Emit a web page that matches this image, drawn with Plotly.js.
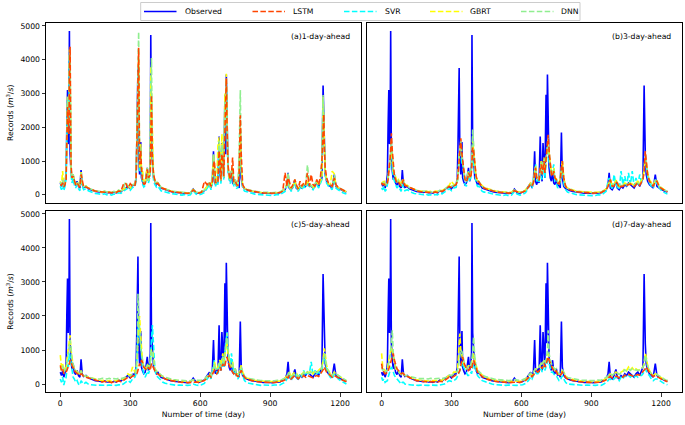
<!DOCTYPE html>
<html><head><meta charset="utf-8">
<script src="https://cdn.plot.ly/plotly-3.0.1.min.js"></script>
<style>html,body{margin:0;padding:0;background:#fff}#chart{width:685px;height:425px}</style>
</head><body><div id="chart"></div>
<script>
const days = [0,5,10,15,20,25,28,31,34,37,39,42,46,50,55,60,66,72,78,84,89,94,100,
110,120,130,140,150,160,170,180,190,200,210,220,230,240,250,260,270,280,290,300,310,
320,325,328,331,333,336,340,345,348,352,358,364,370,373,378,383,386,388,391,395,400,406,412,418,425,432,440,
450,462,474,486,498,510,522,534,546,558,570,582,594,606,618,630,
640,646,652,657,661,666,671,676,681,685,689,693,697,701,706,709,712,715,719,724,729,734,739,744,750,756,762,767,772,776,782,790,798,
810,822,834,846,858,870,882,894,906,918,930,942,954,
964,972,977,982,990,998,1006,1012,1020,1028,1036,1044,1052,1060,1068,1076,1084,1092,1100,1108,1116,1122,1127,1130,1132,1136,1142,1150,1158,1166,1175,1182,1192,1202,1212,1220,1227];

const observed = [350,250,380,200,320,600,2050,3100,1500,2300,4850,1200,700,450,600,350,280,400,250,200,730,300,220,
250,180,150,120,100,90,80,70,90,60,70,50,80,60,120,90,150,200,250,180,280,
300,500,1500,2500,3750,1200,600,1560,500,400,300,350,700,800,400,600,900,4730,1500,900,500,400,300,350,250,200,180,
150,120,100,80,70,60,50,60,40,50,170,60,50,80,120,250,
350,200,400,1290,400,300,450,350,1725,600,400,1530,700,500,2960,1200,3560,1500,800,500,400,700,350,300,450,250,300,200,1840,500,250,180,150,
120,100,80,70,60,50,60,50,40,50,70,60,120,
150,300,650,200,150,250,430,200,150,250,200,300,250,350,300,250,200,300,350,250,400,500,3236,1870,1200,600,400,300,250,200,600,250,200,150,120,100,80];

// (a) 1-day-ahead
const lstmA = [300,280,350,230,300,450,1500,2600,2200,1800,3500,4380,900,500,550,400,300,350,280,220,600,400,240,
230,200,160,130,110,95,85,80,85,70,75,60,75,70,110,100,300,350,200,330,250,
280,450,1200,2400,3300,4350,900,1300,800,450,320,330,600,750,500,550,700,2000,2950,1100,600,420,330,340,270,210,190,
160,130,105,85,75,65,55,60,45,55,140,80,55,75,400,300,
380,250,350,900,1000,350,400,380,1300,1000,450,1200,1100,550,2300,2700,3450,2000,900,600,450,600,1100,400,420,300,280,600,2350,1200,300,200,160,
130,110,85,75,65,55,60,55,45,55,75,65,110,
650,250,500,400,200,300,450,300,180,400,250,350,300,650,250,600,300,250,450,300,550,1000,1800,2380,1500,800,500,350,300,250,500,300,220,180,130,110,90];
const svrA = [250,150,300,120,250,500,1700,2800,2000,2000,4000,3500,600,350,500,300,200,300,180,120,600,250,150,
180,120,90,60,40,30,20,10,30,0,20,-10,20,10,60,40,100,150,200,130,220,
230,420,1300,2300,3500,3800,700,1400,600,330,230,280,600,700,350,500,700,3500,2000,900,400,300,230,260,180,120,100,
90,60,40,20,10,0,-10,10,-20,0,120,20,-5,20,70,200,
300,150,330,1100,700,250,380,300,1500,800,330,1400,900,450,2600,2000,3300,1700,700,450,330,600,700,250,380,180,230,700,1900,700,200,110,90,
60,40,20,10,0,-10,0,-10,-20,-10,10,0,60,
100,250,550,250,100,200,380,220,100,200,150,250,200,300,250,200,150,250,300,200,350,450,2800,2200,1300,600,350,250,200,150,500,200,150,100,60,40,20];
const gbrtA = [400,300,700,250,350,600,1800,2900,2100,2100,4300,3800,700,500,600,400,300,400,280,220,700,350,250,
260,200,160,130,110,100,90,80,100,70,80,60,90,70,130,100,160,210,260,200,290,
310,500,1400,2400,3600,4000,800,1500,700,800,320,350,700,800,420,600,800,3800,3000,1550,550,420,320,360,260,210,190,
160,130,110,90,80,70,60,70,50,60,160,70,60,90,130,260,
360,220,420,1200,800,320,450,1450,1700,900,420,1800,1000,520,3000,2200,3580,1800,850,520,420,700,800,320,450,260,310,900,2000,800,270,190,160,
130,110,90,80,70,60,70,60,50,60,80,70,130,
160,320,620,250,160,260,440,250,170,260,220,320,260,380,320,260,220,320,380,280,420,520,2900,2100,1400,700,450,320,300,700,620,270,210,160,130,110,90];
const dnnA = [380,280,450,250,350,700,1900,2900,2300,2200,4200,4000,800,500,600,400,320,400,300,230,650,350,240,
260,200,170,140,120,110,100,90,110,80,90,70,100,80,140,110,170,380,260,210,300,
320,520,1500,2500,3700,4820,900,1400,700,500,330,360,700,800,430,600,900,3000,4050,1200,560,430,330,370,270,220,200,
170,140,120,100,90,80,70,80,60,70,170,80,70,100,140,270,
370,230,620,1200,800,330,450,380,1600,900,430,1500,950,520,2800,2100,3300,1800,850,520,430,700,750,330,460,270,320,1200,3100,700,280,200,170,
140,120,100,90,80,70,80,70,60,70,90,80,140,
170,330,640,260,170,270,450,260,180,270,230,330,280,880,330,270,230,330,400,290,430,1050,2950,2200,1400,700,470,340,290,230,600,280,220,170,140,120,100];

// (b) 3-day-ahead
const lstmB = [350,300,320,280,300,350,450,600,900,1100,1400,1820,1300,800,550,450,350,380,300,250,350,450,280,
250,200,170,140,120,100,90,85,95,70,80,60,85,70,110,100,140,190,250,220,270,
300,400,550,800,1000,1300,1675,1200,1000,700,450,380,500,650,550,500,700,1000,1400,1300,900,550,400,380,300,240,200,
170,140,120,100,80,70,60,65,50,60,120,90,60,80,120,220,
320,280,350,650,800,500,450,420,800,900,600,900,1000,650,1100,1300,1500,1775,1300,900,600,550,700,500,450,350,320,450,900,1000,500,250,180,
140,120,90,80,70,60,60,60,50,55,70,65,110,
150,250,350,450,250,260,380,350,200,250,250,300,280,300,320,280,240,300,350,280,380,450,700,1000,1290,1000,600,400,320,250,400,400,230,180,140,110,90];
const svrB = [200,150,250,100,150,300,500,800,700,900,1200,1100,900,500,400,300,200,250,150,100,300,200,120,
150,100,70,40,30,20,10,0,20,-10,0,-20,10,0,50,30,80,130,180,120,200,
220,350,500,900,1100,1300,1200,900,1000,700,300,250,500,700,400,500,800,1200,1000,900,700,350,250,250,180,100,80,
80,50,20,10,0,-10,-20,0,-30,-10,100,20,-10,10,60,200,
300,200,450,600,900,400,450,350,700,600,450,1000,700,500,900,1100,1200,1500,1000,800,600,700,900,400,350,200,250,400,700,800,350,150,80,
50,30,10,0,-10,-20,-10,-20,-30,-20,0,-10,60,
100,400,500,300,150,600,300,250,150,700,300,550,250,650,300,700,250,500,300,600,350,500,700,1000,1100,900,550,350,250,200,450,300,200,120,70,40,20];
const gbrtB = [380,320,450,300,320,400,550,700,800,1000,1200,1400,1100,700,650,500,400,450,350,300,450,380,300,
280,220,190,160,140,120,110,100,120,90,100,80,110,100,140,120,170,220,280,400,300,
320,420,600,900,1200,1400,1500,1100,900,700,500,420,600,700,500,600,800,1200,1600,1300,800,500,420,400,320,260,220,
190,160,140,120,100,90,80,90,70,80,150,100,80,100,140,260,
350,300,400,700,850,500,550,450,900,1000,650,1000,1100,700,1100,1300,1400,1500,1200,900,650,600,800,500,480,380,350,500,800,1000,500,270,200,
160,140,110,100,90,80,80,80,70,75,90,85,130,
170,280,400,450,280,300,420,380,230,300,280,350,320,350,350,320,280,350,400,320,420,500,750,950,1100,950,650,450,350,280,450,420,260,200,160,130,110];
const dnnB = [360,300,400,280,310,380,500,650,850,1050,1300,1600,1200,750,600,480,380,420,320,270,400,420,290,
270,210,180,150,130,110,100,95,110,80,90,70,95,85,130,110,160,210,270,250,290,
310,410,580,850,1100,1450,1600,1150,950,700,480,400,560,680,520,560,780,1300,1930,1500,850,520,410,390,310,250,210,
180,150,130,110,90,80,70,75,60,70,140,95,70,90,130,240,
340,290,380,680,830,500,500,440,850,950,620,950,1050,680,1100,1300,1450,1700,1250,880,620,580,750,500,470,370,340,480,850,1000,500,260,190,
150,130,100,90,80,70,70,70,60,65,80,75,120,
160,270,380,450,270,280,400,370,220,280,270,330,300,330,340,300,260,330,380,300,400,480,750,1050,1200,1000,620,420,330,260,430,410,240,190,150,120,100];

// (c) 5-day-ahead
const lstmC = [550,400,450,300,350,350,400,450,500,550,600,700,650,550,450,400,350,300,280,250,300,280,220,
200,180,150,120,100,90,80,60,80,50,70,40,70,60,90,70,100,150,200,180,230,
250,280,300,350,400,500,600,550,700,650,500,450,420,400,500,450,400,500,600,550,450,380,320,300,260,220,180,
150,120,100,80,70,60,50,60,40,50,70,60,50,70,100,180,
250,200,280,300,400,350,300,350,450,500,400,550,600,500,550,650,700,800,650,550,450,400,350,300,350,250,220,250,350,400,300,200,150,
120,100,80,70,60,50,50,50,40,45,60,55,90,
120,200,180,250,150,200,250,220,150,200,180,250,200,250,220,200,180,230,250,220,300,350,400,450,500,450,350,300,250,200,250,220,180,140,110,90,70];
const svrC = [150,50,200,-30,100,200,400,600,500,700,900,800,600,300,200,150,50,100,0,-30,100,50,0,
50,0,-20,-30,-30,-40,-30,-40,-30,-40,-30,-40,-30,-40,-20,-30,0,50,100,50,150,
200,300,600,1000,1500,1925,1600,1000,700,500,300,200,300,500,300,400,600,1000,1300,1730,900,400,250,200,150,100,50,
20,0,-20,-30,-40,-30,-40,-30,-40,-30,0,-30,-40,-20,20,150,
250,150,350,500,700,400,350,300,550,600,400,700,800,500,900,1100,1300,1530,1000,700,500,900,600,300,350,200,150,250,400,500,250,100,50,
20,0,-20,-30,-40,-30,-40,-30,-40,-30,-20,-30,20,
50,150,250,300,100,200,300,250,100,300,200,400,250,350,300,650,250,400,300,350,300,400,600,800,900,700,400,300,200,150,300,250,150,100,50,20,0];
const gbrtC = [850,500,600,400,450,500,700,900,1000,1200,1300,1435,1000,700,550,450,400,380,320,280,400,300,250,
230,200,170,150,130,120,110,100,110,90,100,80,100,90,120,110,150,200,300,250,500,
350,400,600,900,1300,1800,2000,1400,1000,700,500,450,500,600,500,550,700,900,1000,1000,700,450,380,350,300,250,220,
190,160,140,120,100,90,80,90,70,80,120,100,80,100,130,220,
300,250,350,450,650,500,450,500,650,700,550,750,900,650,900,1000,1150,1250,900,700,550,500,650,400,450,300,280,350,500,550,350,230,180,
150,130,110,100,90,80,80,80,70,75,90,85,130,
170,250,300,350,200,300,350,330,220,300,280,350,300,350,330,400,300,380,350,400,450,500,700,900,1050,900,550,400,300,250,350,300,250,190,150,120,100];
const dnnC = [500,400,550,350,400,450,600,800,900,1000,1150,1300,1100,700,550,450,380,350,300,270,380,300,250,
230,200,180,160,150,140,150,170,160,150,170,140,160,150,170,160,180,200,250,230,300,
300,400,700,1400,2650,2000,1500,1100,900,700,500,450,500,550,500,520,650,850,1000,900,700,450,380,350,300,260,220,
200,170,150,130,120,110,100,110,90,100,130,110,100,110,140,230,
300,260,350,450,600,450,450,450,600,650,500,700,800,600,850,1000,1300,1500,1000,700,550,500,600,400,430,300,280,330,450,500,350,230,180,
160,140,120,110,100,100,90,100,90,95,110,100,150,
180,250,300,330,200,280,330,300,220,280,260,330,300,330,320,350,300,350,340,380,420,480,650,850,900,800,500,380,300,240,330,300,250,190,150,120,100];

// (d) 7-day-ahead
const lstmD = [600,400,350,300,320,330,380,450,500,550,600,700,800,900,700,550,450,400,350,300,320,300,250,
220,180,150,120,100,90,80,70,80,60,70,60,70,60,80,70,100,150,200,180,220,
250,280,300,330,350,400,550,700,800,650,550,450,420,400,450,500,450,500,600,700,600,450,350,300,260,220,180,
150,120,100,80,70,60,50,60,45,50,60,55,50,70,100,180,
250,220,280,300,350,380,350,380,450,500,450,550,600,500,550,650,700,800,700,600,500,450,400,350,380,280,250,250,300,350,300,200,150,
120,100,80,70,60,50,50,50,45,45,60,55,90,
120,180,200,220,180,200,230,220,180,220,200,260,240,280,260,240,220,260,280,260,320,350,380,420,450,500,420,330,280,220,250,230,180,140,110,90,70];
const svrD = [200,100,150,50,80,100,200,300,350,400,450,500,450,350,250,200,150,100,50,0,50,50,0,
0,-20,-30,-40,-30,-40,-30,-40,-30,-40,-30,-40,-30,-40,-30,-20,0,50,100,80,100,
150,200,250,300,350,400,500,600,650,500,400,300,250,250,300,350,300,400,500,600,500,350,250,200,150,100,80,
50,20,0,-20,-30,-40,-30,-40,-30,-40,-30,-40,-30,-20,20,100,
200,150,250,300,350,300,300,350,400,450,350,500,550,400,500,600,650,700,600,450,350,350,300,250,250,150,100,100,200,250,150,50,0,
-10,-20,-30,-40,-30,-40,-30,-40,-30,-40,-30,-40,0,
50,100,150,150,100,150,200,180,100,200,150,250,200,250,200,250,200,250,200,250,250,300,350,400,450,400,300,250,150,100,150,150,100,50,20,0,-20];
const gbrtD = [900,500,450,350,400,450,600,750,850,950,1000,1090,950,700,550,450,400,380,320,280,350,300,250,
230,200,170,150,130,120,110,100,110,90,100,90,100,100,120,110,150,200,250,250,350,
350,400,600,900,1200,1480,1000,800,700,600,500,450,500,550,500,550,600,700,800,900,700,500,400,350,300,260,220,
190,160,140,120,100,90,80,90,70,80,90,85,80,100,130,220,
300,260,350,400,450,450,450,500,550,600,550,650,700,600,650,750,800,900,750,650,550,500,450,400,420,320,280,280,350,400,350,230,180,
150,130,110,100,90,80,80,80,70,75,90,85,130,
160,220,280,300,250,300,350,320,280,350,380,450,400,500,420,480,400,450,400,420,450,500,600,800,900,800,550,400,300,250,300,280,220,180,140,120,100];
const dnnD = [500,400,450,350,380,420,500,600,700,850,1000,1200,1580,900,650,500,420,380,320,280,330,300,260,
240,220,200,180,170,160,160,170,160,150,170,150,160,150,170,160,180,200,260,250,300,
330,380,450,550,700,900,1000,950,850,700,550,480,500,550,520,560,650,750,950,1385,800,500,400,360,320,280,240,
210,180,160,140,130,120,110,120,100,110,130,120,110,130,160,250,
320,280,350,400,450,450,450,500,550,600,550,650,700,600,700,850,1000,1580,900,700,580,520,480,420,450,340,300,300,360,400,350,240,190,
170,150,130,120,110,110,100,110,100,105,120,110,160,
180,230,300,300,260,300,340,330,280,330,350,420,380,450,400,450,400,420,400,420,450,500,550,750,850,750,520,400,300,260,300,280,230,190,150,120,100];

const seriesNames = ['Observed','LSTM','SVR','GBRT','DNN'];
const panelLabels = ['(a)1-day-ahead','(b)3-day-ahead','(c)5-day-ahead','(d)7-day-ahead'];
const xTicks = [0,300,600,900,1200];
const yTicks = [0,1000,2000,3000,4000,5000];

const panels = [
  {lstm: lstmA, svr: svrA, gbrt: gbrtA, dnn: dnnA},
  {lstm: lstmB, svr: svrB, gbrt: gbrtB, dnn: dnnB},
  {lstm: lstmC, svr: svrC, gbrt: gbrtC, dnn: dnnC},
  {lstm: lstmD, svr: svrD, gbrt: gbrtD, dnn: dnnD}
];

[observed].concat(...panels.map(p => [p.lstm, p.svr, p.gbrt, p.dnn])).forEach((a, i) => {
  if (a.length !== days.length) throw new Error('length mismatch in array ' + i + ': ' + a.length + ' vs ' + days.length);
});

const colors = {obs: '#0000ff', lstm: '#ff4500', svr: '#00ffff', gbrt: '#ffff00', dnn: '#90ee90'};
const dash = '5.5px,2.4px';
const W = 685, H = 425;
const FONT = 'DejaVu Sans';

const suffix = ['', '2', '3', '4'];
const traces = [];
panels.forEach((p, i) => {
  const xa = 'x' + suffix[i], ya = 'y' + suffix[i];
  const mk = (y, color, name, d) => ({
    type: 'scatter', mode: 'lines', x: days, y: y, name: name, xaxis: xa, yaxis: ya,
    showlegend: false, hoverinfo: 'skip',
    line: {color: color, width: 1.6, dash: d}
  });
  traces.push(mk(observed, colors.obs, seriesNames[0], 'solid'));
  traces.push(mk(p.svr, colors.svr, seriesNames[2], dash));
  traces.push(mk(p.gbrt, colors.gbrt, seriesNames[3], dash));
  traces.push(mk(p.dnn, colors.dnn, seriesNames[4], dash));
  traces.push(mk(p.lstm, colors.lstm, seriesNames[1], dash));
});

const xL = [46 / W, 360.7 / W], xR = [367.3 / W, 681.7 / W];
const yT = [1 - 203 / H, 1 - 22.7 / H], yB = [1 - 392.3 / H, 1 - 210.7 / H];
const xRange = [-61.35, 1288.35], yRange = [-243, 5093];
const tickFont = {family: FONT, size: 7.7, color: '#000'};

function xax(domain, anchor, labels) {
  const ax = {domain: domain, anchor: anchor, range: xRange, showgrid: false, zeroline: false,
    showline: true, mirror: true, linecolor: '#000', linewidth: 1,
    tickmode: 'array', tickvals: xTicks, ticktext: xTicks.map(String),
    ticks: labels ? 'outside' : '', ticklen: 3.5, tickwidth: 0.8, tickcolor: '#000',
    showticklabels: labels, tickfont: tickFont, automargin: false};
  if (labels) ax.title = {text: 'Number of time (day)', font: {family: FONT, size: 7.7, color: '#000'}, standoff: 4};
  return ax;
}
function yax(domain, anchor, labels) {
  const ax = {domain: domain, anchor: anchor, range: yRange, showgrid: false, zeroline: false,
    showline: true, mirror: true, linecolor: '#000', linewidth: 1,
    tickmode: 'array', tickvals: yTicks, ticktext: yTicks.map(String),
    ticks: labels ? 'outside' : '', ticklen: 3.5, tickwidth: 0.8, tickcolor: '#000',
    showticklabels: labels, tickfont: tickFont, automargin: false};
  if (labels) ax.title = {text: 'Records (<i>m</i><sup>3</sup>/<i>s</i>)', font: {family: FONT, size: 7.7, color: '#000'}, standoff: 5};
  return ax;
}

const annotations = [];
const panelBoxes = [[xL, yT], [xR, yT], [xL, yB], [xR, yB]];
panelBoxes.forEach((b, i) => {
  annotations.push({xref: 'paper', yref: 'paper', x: b[0][1] - 9 / W, y: b[1][1] - 13.5 / H,
    xanchor: 'right', yanchor: 'middle', showarrow: false, text: panelLabels[i],
    font: {family: FONT, size: 7.7, color: '#000'}});
});

// legend (drawn as shapes + text)
const legY = 1 - 11.5 / H;
const legItems = [
  {name: seriesNames[0], color: colors.obs, d: 'solid', x0: 144, tx: 182.6},
  {name: seriesNames[1], color: colors.lstm, d: dash, x0: 252.5, tx: 290.5},
  {name: seriesNames[2], color: colors.svr, d: dash, x0: 344, tx: 383},
  {name: seriesNames[3], color: colors.gbrt, d: dash, x0: 430, tx: 468},
  {name: seriesNames[4], color: colors.dnn, d: dash, x0: 521, tx: 559}
];
const shapes = [{type: 'rect', xref: 'paper', yref: 'paper', x0: 140.7 / W, x1: 580 / W,
  y0: 1 - 20.5 / H, y1: 1 - 2.5 / H, line: {color: '#cccccc', width: 1}, fillcolor: 'rgba(255,255,255,0.8)'}];
legItems.forEach(it => {
  shapes.push({type: 'line', xref: 'paper', yref: 'paper', x0: it.x0 / W, x1: (it.x0 + 32.5) / W,
    y0: legY, y1: legY, line: {color: it.color, width: 1.6, dash: it.d}});
  annotations.push({xref: 'paper', yref: 'paper', x: it.tx / W, y: legY, xanchor: 'left', yanchor: 'middle',
    showarrow: false, text: it.name, font: {family: FONT, size: 7.7, color: '#000'}});
});

const layout = {
  width: W, height: H, margin: {l: 0, r: 0, t: 0, b: 0},
  paper_bgcolor: '#fff', plot_bgcolor: '#fff', showlegend: false,
  font: {family: FONT, size: 7.7, color: '#000'},
  xaxis: xax(xL, 'y', false), yaxis: yax(yT, 'x', true),
  xaxis2: xax(xR, 'y2', false), yaxis2: yax(yT, 'x2', false),
  xaxis3: xax(xL, 'y3', true), yaxis3: yax(yB, 'x3', true),
  xaxis4: xax(xR, 'y4', true), yaxis4: yax(yB, 'x4', false),
  annotations: annotations, shapes: shapes
};

Plotly.newPlot('chart', traces, layout, {staticPlot: true, displayModeBar: false});
</script></body></html>
